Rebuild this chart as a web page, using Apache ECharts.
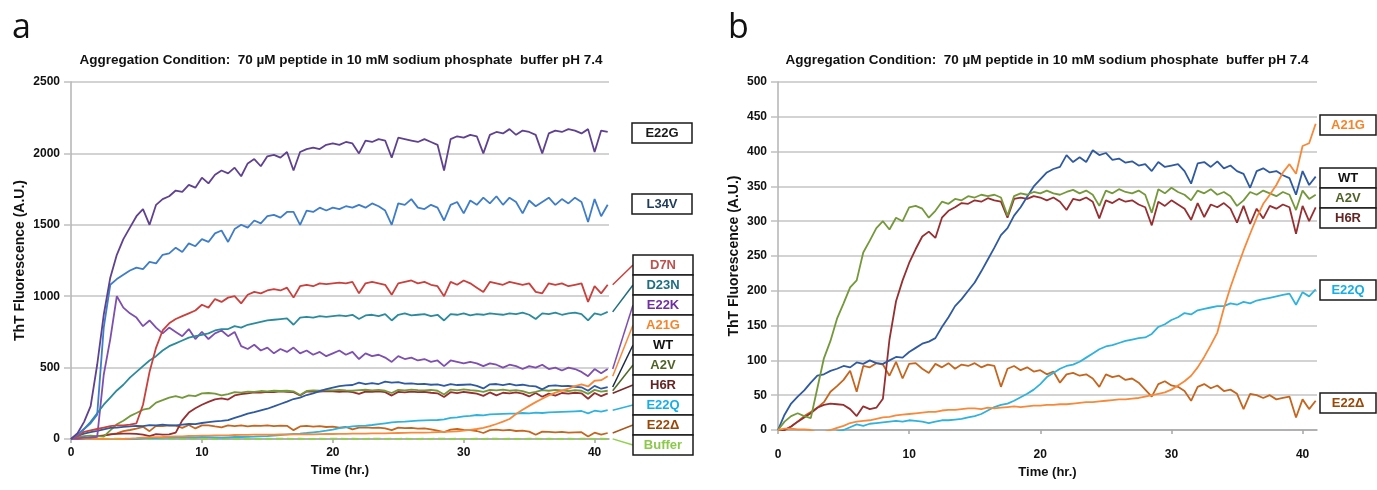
<!DOCTYPE html>
<html><head><meta charset="utf-8">
<script src="https://cdn.jsdelivr.net/npm/echarts@6/dist/echarts.min.js"></script>
<style>html,body{margin:0;padding:0;background:#fff}#c{width:1377px;height:490px}</style>
</head><body><div id="c"></div>
<script>
// Time (hr.) sampling grid
const times = [0,0.5,1,1.5,2,2.5,3,3.5,4,4.5,5,5.5,6,6.5,7,7.5,8,8.5,9,9.5,
10,10.5,11,11.5,12,12.5,13,13.5,14,14.5,15,15.5,16,16.5,17,17.5,18,18.5,19,19.5,
20,20.5,21,21.5,22,22.5,23,23.5,24,24.5,25,25.5,26,26.5,27,27.5,28,28.5,29,29.5,
30,30.5,31,31.5,32,32.5,33,33.5,34,34.5,35,35.5,36,36.5,37,37.5,38,38.5,39,39.5,
40,40.5,41];
const xTicks = [0,10,20,30,40];
const yTicksA = [0,500,1000,1500,2000,2500];
const yTicksB = [0,50,100,150,200,250,300,350,400,450,500];

// Panel a only series
const E22G = [0,40,120,230,520,870,1130,1290,1400,1480,
1560,1610,1500,1640,1680,1700,1740,1730,1780,1760,
1830,1790,1850,1880,1860,1900,1840,1930,1960,1910,
1980,1990,1970,2010,1880,2010,2030,2040,2030,2060,
2070,2060,2080,2070,2000,2090,2080,2100,2090,1970,
2110,2100,2090,2080,2100,2080,2060,1880,2100,2120,
2110,2130,2120,2000,2130,2150,2140,2170,2130,2160,
2150,2130,2000,2140,2160,2150,2170,2160,2140,2170,
2010,2160,2150];
const L34V = [0,30,70,110,170,780,1080,1120,1150,1180,
1200,1190,1240,1230,1290,1300,1340,1310,1370,1350,
1400,1380,1440,1460,1380,1470,1500,1480,1530,1510,
1560,1570,1550,1590,1590,1500,1600,1590,1620,1600,
1620,1610,1630,1620,1640,1620,1650,1630,1600,1500,
1650,1640,1680,1620,1610,1640,1620,1530,1640,1660,
1580,1670,1640,1690,1650,1700,1640,1690,1660,1580,
1670,1630,1660,1690,1640,1680,1650,1690,1660,1520,
1680,1560,1640];
const D7N = [0,20,50,60,70,80,90,95,95,100,
110,240,470,640,760,810,840,860,880,900,
940,920,980,960,990,1000,950,1010,1030,1020,
1040,1050,1040,1060,990,1070,1080,1070,1090,1085,
1090,1095,1090,1100,1020,1090,1100,1090,1080,1010,
1090,1100,1110,1090,1100,1080,1070,1000,1100,1080,
1110,1090,1060,1030,1100,1090,1080,1100,1090,1080,
1090,1030,1020,1090,1080,1090,1070,1080,1090,960,
1070,1020,1080];
const D23N = [0,30,70,120,180,240,290,340,380,430,
470,510,550,580,620,650,670,690,710,720,
730,740,760,770,770,790,780,800,810,820,
830,835,840,845,800,850,855,850,860,855,
860,865,860,870,840,865,870,860,875,830,
870,880,865,870,875,860,870,830,875,870,
880,865,875,870,880,875,870,880,875,885,
870,840,880,875,885,870,880,885,875,830,
880,870,890];
const E22K = [0,5,10,10,15,450,700,1000,920,880,
850,790,830,780,740,780,750,720,770,700,
750,700,740,760,720,750,650,630,660,620,
640,600,630,610,640,600,620,590,610,580,
600,620,590,610,560,600,580,590,570,540,
580,560,570,550,560,540,550,510,550,540,
530,540,530,510,530,520,500,520,510,490,
510,500,520,490,500,480,500,490,470,440,
490,460,490];
const Buffer = [0,1,2,1,0,2,1,3,2,1,
2,1,0,2,3,1,2,1,2,3,
1,2,0,1,2,3,1,2,1,0,
2,1,3,2,1,2,1,0,2,1,
3,2,1,2,0,1,2,3,1,2,
1,2,1,0,2,1,3,2,1,2,
0,1,2,1,3,2,1,2,0,1,
2,3,1,2,1,0,2,1,2,3,
1,2,1];

// Series shown in both panels
const WT = [0,22,38,48,57,68,78,80,85,88,
92,90,97,95,100,96,95,100,105,104,
112,118,124,127,132,148,162,178,188,200,
212,228,245,262,280,290,308,320,335,350,
360,370,375,378,395,385,392,385,402,395,
398,388,390,384,386,380,382,372,385,378,
380,382,372,354,383,385,378,386,376,380,
372,368,348,372,376,370,372,366,362,338,
372,352,364];
const A2V = [0,12,20,24,20,17,60,103,128,160,
182,205,215,255,272,290,300,288,305,300,
320,322,318,305,315,328,325,332,330,336,
334,338,336,338,334,308,336,340,338,342,
340,344,340,338,342,345,340,344,338,322,
344,340,346,342,340,344,338,312,346,340,
348,342,338,330,344,340,346,338,342,336,
322,330,342,338,344,340,336,342,338,316,
344,332,338];
const H6R = [0,0,5,12,18,24,32,36,38,37,
36,30,20,34,30,32,45,130,185,215,
240,260,278,285,276,305,315,320,326,325,
330,328,333,330,328,305,332,334,332,336,
334,330,334,328,316,332,330,334,328,304,
330,326,332,328,330,324,320,294,328,322,
330,324,318,302,326,306,324,320,326,318,
298,322,296,318,304,322,318,324,320,282,
322,300,320];
const E22D = [0,0,5,12,20,26,32,40,55,63,
72,85,55,92,90,96,94,78,98,74,
95,96,88,82,95,90,96,88,94,92,
96,90,94,92,62,88,92,86,90,84,
86,80,84,68,80,82,78,80,74,62,
80,76,78,72,74,68,58,48,66,70,
64,62,56,42,62,66,60,64,56,58,
52,30,52,50,46,50,44,46,48,18,
44,30,42];
const E22Q = [-10,-12,-10,-12,-14,-12,-10,-8,-6,-2,
0,4,8,6,9,10,11,12,13,12,
14,13,12,10,12,14,14,15,16,18,
20,23,28,33,36,38,42,47,52,58,
66,76,82,88,92,94,98,104,110,116,
120,122,125,128,130,132,133,138,148,152,
158,162,168,166,172,174,176,178,178,182,
180,184,182,186,188,190,192,194,196,180,
198,192,202];
const A21G = [0,2,2,1,1,0,-4,-3,0,3,
6,10,12,13,14,16,18,19,21,22,
23,24,25,26,26,28,29,29,30,31,
31,30,32,31,32,33,34,33,34,35,
35,36,36,37,37,38,39,40,40,41,
42,43,44,44,45,46,48,50,52,54,
58,64,70,78,90,105,122,140,175,205,
232,258,282,305,325,338,352,370,382,368,
408,412,440];

const C = {
  E22G:'#5e4290', L34V:'#3f7dc8', D7N:'#c9403d', D23N:'#2b8b9c', E22K:'#7d4fae',
  A21G:'#f7893b', WT:'#2f5aa0', A2V:'#74983a', H6R:'#962f31', E22Q:'#2fb2dc',
  E22D:'#c4661f', Buffer:'#92d050'
};
const pairs = v => times.map((t,i)=>[t, v[i]]);
const FONT = '"Liberation Sans", Arial, sans-serif';

function line(name, data, color, idx, dashed){
  return {name, type:'line', xAxisIndex:idx, yAxisIndex:idx, data:pairs(data),
    showSymbol:false, symbol:'none', animation:false, silent:true,
    lineStyle:{color, width:1.8, type: dashed?'dashed':'solid'}, z:2};
}
function xAx(idx, nameGap, margin){
  return {type:'value', gridIndex:idx, min:0, max:41.1, interval:10,
    name:'Time (hr.)', nameLocation:'middle', nameGap,
    nameTextStyle:{fontFamily:FONT, fontWeight:'bold', fontSize:13, color:'#111'},
    axisLine:{show:true, lineStyle:{color:'#a6a6a6', width:1.5}},
    axisTick:{show:true, length:4, lineStyle:{color:'#a6a6a6', width:1.5}},
    axisLabel:{fontFamily:FONT, fontWeight:'bold', fontSize:12, color:'#111', margin,
      showMaxLabel:false, formatter:v=> xTicks.includes(v)? String(v):''},
    splitLine:{show:false}};
}
function yAx(idx, max, interval, ticks, nameGap){
  return {type:'value', gridIndex:idx, min:0, max, interval,
    name:'ThT Fluorescence (A.U.)', nameLocation:'middle', nameGap,
    nameTextStyle:{fontFamily:FONT, fontWeight:'bold', fontSize:14, color:'#111'},
    axisLine:{show:true, lineStyle:{color:'#b3b3b3', width:1.5}},
    axisTick:{show:true, length:7, lineStyle:{color:'#c0c0c0', width:1.5}},
    axisLabel:{fontFamily:FONT, fontWeight:'bold', fontSize:12, color:'#111', margin:11,
      formatter:v=> ticks.includes(v)? String(v):''},
    splitLine:{show:true, lineStyle:{color:'#c4c4c4', width:1.5}}};
}

const chart = echarts.init(document.getElementById('c'), null, {renderer:'canvas'});
const option = {
  animation:false,
  backgroundColor:'#fff',
  grid:[
    {left:71, top:82, width:538, height:357},
    {left:778, top:82, width:539, height:348}
  ],
  xAxis:[xAx(0,21,8), xAx(1,33,19)],
  yAxis:[yAx(0,2500,500,yTicksA,44), yAx(1,500,50,yTicksB,37)],
  series:[
    line('Buffer', Buffer, C.Buffer, 0, true),
    line('E22Δ', E22D, C.E22D, 0),
    line('E22Q', E22Q, C.E22Q, 0),
    line('H6R', H6R, C.H6R, 0),
    line('A2V', A2V, C.A2V, 0),
    line('WT', WT, C.WT, 0),
    line('A21G', A21G, C.A21G, 0),
    line('E22K', E22K, C.E22K, 0),
    line('D23N', D23N, C.D23N, 0),
    line('D7N', D7N, C.D7N, 0),
    line('L34V', L34V, C.L34V, 0),
    line('E22G', E22G, C.E22G, 0),
    line('E22Δ', E22D, C.E22D, 1),
    line('E22Q', E22Q, C.E22Q, 1),
    line('H6R', H6R, C.H6R, 1),
    line('WT', WT, C.WT, 1),
    line('A2V', A2V, C.A2V, 1),
    line('A21G', A21G, C.A21G, 1)
  ]
};
chart.setOption(option);

const TITLE = 'Aggregation Condition:  70 µM peptide in 10 mM sodium phosphate  buffer pH 7.4';
const g = [];
function txt(x,y,text,font,fill,align){
  g.push({type:'text', x, y, silent:true, z:10,
    style:{text, font, fill:fill||'#111', textAlign:align||'center', textVerticalAlign:'middle'}});
}
txt(12, 28, 'a', 'normal 34px "Open Sans", sans-serif', '#111', 'left');
txt(728, 28, 'b', 'normal 34px "Open Sans", sans-serif', '#111', 'left');
txt(341, 60, TITLE, 'bold 13.5px '+FONT);
txt(1047, 60, TITLE, 'bold 13.5px '+FONT);

function box(x,y,w,h,text,color){
  g.push({type:'rect', silent:true, z:10, shape:{x,y,width:w,height:h},
    style:{fill:'#fff', stroke:'#1a1a1a', lineWidth:1.5}});
  txt(x+w/2, y+h/2+0.5, text, 'bold 13px '+FONT, color);
}
// Panel a labels
box(632,123,60,20,'E22G','#1a1a1a');
box(632,194,60,20,'L34V','#1f3b5a');
const stackA = [
  ['D7N', D7N, C.D7N, '#c0504d'],
  ['D23N', D23N, '#1f6d7d', '#1f6d80'],
  ['E22K', E22K, C.E22K, '#7030a0'],
  ['A21G', A21G, C.A21G, '#f4842c'],
  ['WT', WT, '#1a2a40', '#111'],
  ['A2V', A2V, '#4f6a28', '#4f6228'],
  ['H6R', H6R, '#7a2a2a', '#632523'],
  ['E22Q', E22Q, C.E22Q, '#16aee6'],
  ['E22Δ', E22D, '#a8561c', '#984807'],
  ['Buffer', Buffer, C.Buffer, '#8cc84b']
];
stackA.forEach((s,i)=>{
  const y = 255 + i*20;
  const last = s[1][s[1].length-1];
  const p = chart.convertToPixel({xAxisIndex:0, yAxisIndex:0}, [times[times.length-1], last]);
  g.push({type:'line', silent:true, z:9, shape:{x1:p[0]+5, y1:p[1], x2:633, y2:y+10},
    style:{stroke:s[2], lineWidth:1.5}});
  box(633, y, 60, 20, s[0], s[3]);
});
// Panel b labels
box(1320,115,56,20,'A21G','#f4842c');
box(1320,168,56,20,'WT','#111');
box(1320,188,56,20,'A2V','#4f6228');
box(1320,208,56,20,'H6R','#632523');
box(1320,280,56,20,'E22Q','#16aee6');
box(1320,393,56,20,'E22Δ','#984807');

chart.setOption({graphic:{elements:g}});
</script>
</body></html>
